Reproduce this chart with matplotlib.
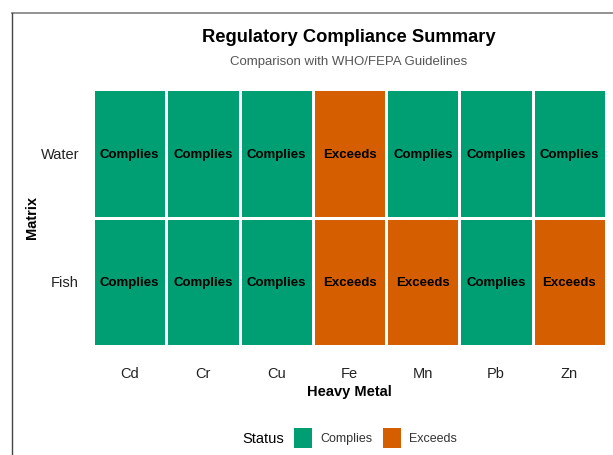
import numpy as np
import matplotlib.pyplot as plt
from matplotlib.colors import ListedColormap
from matplotlib.patches import Patch
from matplotlib.lines import Line2D

plt.rcParams['font.family'] = ['Liberation Sans', 'DejaVu Sans']

# data
metals = ["Cd", "Cr", "Cu", "Fe", "Mn", "Pb", "Zn"]
matrices = ["Fish", "Water"]  # bottom to top
water_status = ["Complies", "Complies", "Complies", "Exceeds", "Complies", "Complies", "Complies"]
fish_status = ["Complies", "Complies", "Complies", "Exceeds", "Exceeds", "Complies", "Exceeds"]
status_levels = ["Complies", "Exceeds"]
status_colors = ["#009E73", "#D55E00"]

grid = [fish_status, water_status]
codes = np.array([[status_levels.index(s) for s in row] for row in grid])

fig = plt.figure(figsize=(6.13, 4.55), dpi=100)
ax = fig.add_axes([93 / 613, 1 - 346 / 455, (606 - 93) / 613, (346 - 89) / 455])

cmap = ListedColormap(status_colors)
ax.pcolormesh(np.arange(len(metals) + 1) - 0.5, np.arange(len(matrices) + 1) - 0.5,
              codes, cmap=cmap, vmin=0, vmax=1, edgecolors="white", linewidth=2)

for i, row in enumerate(grid):
    for j, s in enumerate(row):
        ax.text(j, i, s, ha="center", va="center_baseline", fontsize=9.5,
                fontweight="bold", color="black")

ax.set_xlim(-0.5, len(metals) - 0.5)
ax.set_ylim(-0.5, len(matrices) - 0.5)
ax.set_xticks(range(len(metals)))
ax.set_xticklabels(metals, fontsize=10.5, color="#222222")
ax.set_yticks(range(len(matrices)))
ax.set_yticklabels(matrices, fontsize=10.5, color="#222222")
ax.tick_params(axis="x", length=0, pad=15)
ax.tick_params(axis="y", length=0, pad=10)
for sp in ax.spines.values():
    sp.set_visible(False)

ax.set_xlabel("Heavy Metal", fontsize=10.5, fontweight="bold", labelpad=3)
ax.set_ylabel("Matrix", fontsize=10.5, fontweight="bold", labelpad=1)

fig.text(349 / 613, 1 - 37 / 455, "Regulatory Compliance Summary", ha="center", va="center",
         fontsize=13.2, fontweight="bold")
fig.text(349 / 613, 1 - 62 / 455, "Comparison with WHO/FEPA Guidelines", ha="center", va="center",
         fontsize=9.5, color="#555555")

# legend: title on the left, keys in one row
fig.text(284 / 613, 1 - 439 / 455, "Status", ha="right", va="center", fontsize=10.5)
handles = [Patch(facecolor=c, edgecolor="none") for c in status_colors]
leg = fig.legend(handles, status_levels, loc="center left", bbox_to_anchor=(294 / 613, 1 - 438 / 455),
                 ncol=2, frameon=False, fontsize=9, handlelength=1.45, handleheight=2.0,
                 columnspacing=0.85, handletextpad=0.65, borderpad=0, borderaxespad=0,
                 labelcolor="#333333")

# screenshot border lines
fig.add_artist(Line2D([12 / 613, 1], [1 - 13 / 455, 1 - 13 / 455], color="#808080", lw=1.2))
fig.add_artist(Line2D([12 / 613, 12 / 613], [0, 1 - 13 / 455], color="#444444", lw=1.0))

fig.savefig("out.png", dpi=100)
